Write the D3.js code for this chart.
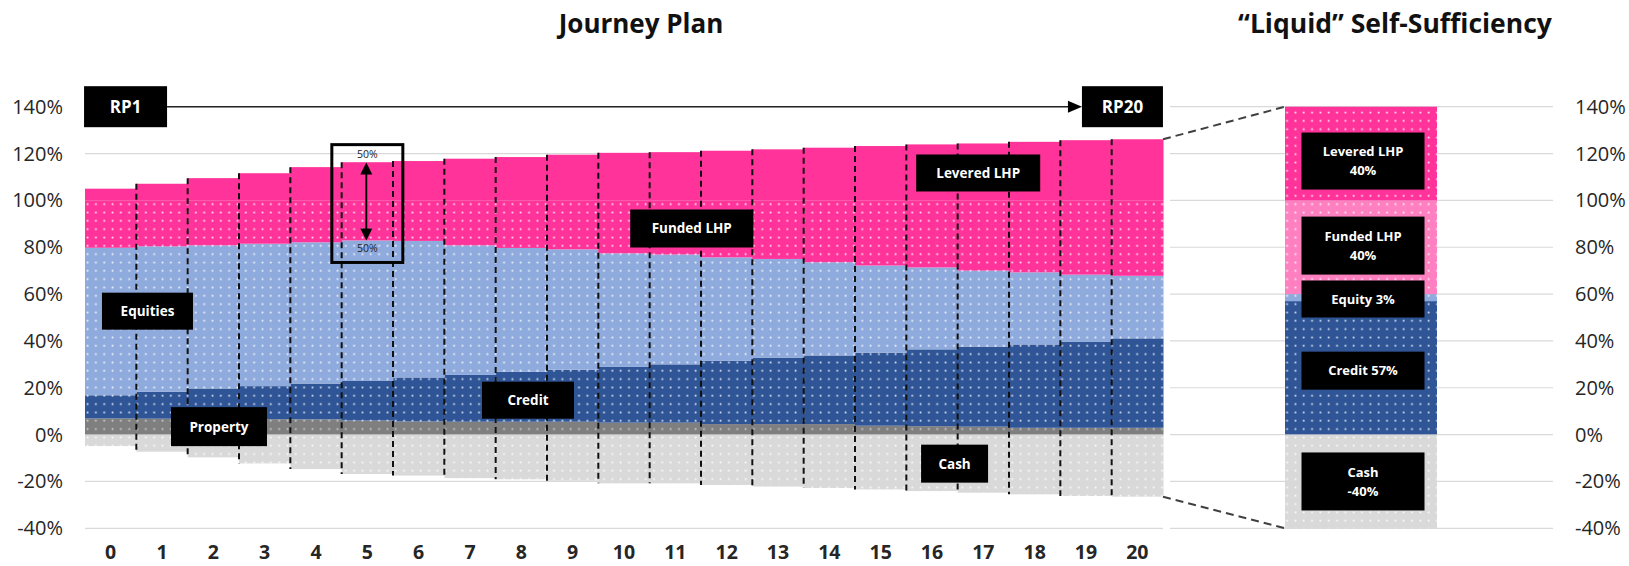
<!DOCTYPE html>
<html><head><meta charset="utf-8">
<script src="https://cdn.jsdelivr.net/npm/d3@7/dist/d3.min.js"></script>
<style>body{margin:0;background:#fff}svg{display:block;font-family:"Open Sans",sans-serif}</style>
</head><body><svg id="c" width="1629" height="566"></svg>
<script>
// ---- data (percent of liabilities) ----
const years = ["0","1","2","3","4","5","6","7","8","9","10","11","12","13","14","15","16","17","18","19","20"];
const property   = [6.9,6.8,6.7,6.6,6.5,6.0,5.6,5.5,5.5,5.5,5.1,5.1,4.5,4.5,4.5,3.8,3.6,3.4,2.9,2.9,2.9];
const credit     = [9.9,11.5,13.0,14.1,15.3,16.9,18.8,20.0,21.3,22.2,23.8,24.9,27.0,28.4,29.3,31.2,32.8,34.2,35.6,36.7,38.2];
const equities   = [63.0,62.1,61.1,60.8,60.3,60.0,58.3,55.3,52.9,51.4,48.5,46.9,44.2,42.1,39.8,37.2,35.0,32.4,30.8,28.7,26.7];
const fundedLHP  = [20.2,19.6,19.2,18.5,17.9,17.1,17.3,19.2,20.3,20.9,22.6,23.1,24.3,25.0,26.4,27.8,28.6,30.0,30.7,31.7,32.2];
const leveredLHP = [5.0,7.1,9.5,11.6,14.2,16.3,16.8,17.8,18.5,19.5,20.3,20.6,21.2,21.8,22.5,23.2,23.9,24.3,25.0,25.7,26.1];
const cash       = [-4.9,-7.3,-9.7,-12.3,-14.7,-16.8,-17.5,-18.6,-19.1,-19.7,-20.8,-20.8,-21.5,-22.2,-22.8,-23.4,-24.1,-24.8,-25.5,-26.2,-26.5];
const yTicks = [-40,-20,0,20,40,60,80,100,120,140];
const liquidNames  = ["Credit","Equity","Funded LHP","Levered LHP","Cash"];
const liquidValues = [57,3,40,40,-40];
const liquidLabels = [["Credit 57%"],["Equity 3%"],["Funded LHP","40%"],["Levered LHP","40%"],["Cash","-40%"]];
const rangeMarks = ["50%","50%"];
const titles = ["Journey Plan","\u201CLiquid\u201D Self-Sufficiency"];

// ---- build ----
const svg = d3.select("#c");
const x = d3.scaleBand().domain(years).range([85,1163]).padding(0);
const xc = d3.scaleLinear().domain([0,years.length]).range([85,1163]); // continuous position for annotations
const y = d3.scaleLinear().domain([-40,140]).range([528.3,106.7]);
const xr = d3.scaleBand().domain(["liquid"]).range([1285,1437]).padding(0);

const defs = svg.append("defs");
function dotPattern(id, bg, dot, op){
  const p = defs.append("pattern").attr("id",id).attr("patternUnits","userSpaceOnUse")
    .attr("width",8.33).attr("height",8.33);
  p.append("rect").attr("width",8.33).attr("height",8.33).attr("fill",bg);
  p.append("rect").attr("x",3.4).attr("y",3.4).attr("width",1.7).attr("height",1.7).attr("fill",dot).attr("opacity",op);
}
const col = {property:"#7f7f7f",credit:"#2f5597",equities:"#8faadc",funded:"#ff3399",levered:"#ff3399",cash:"#d9d9d9",fundedR:"#ff80c0"};
dotPattern("pProperty",col.property,"#fff",0.6);
dotPattern("pCredit",col.credit,"#fff",0.85);
dotPattern("pEquities",col.equities,"#fff",0.9);
dotPattern("pFunded",col.funded,"#fff",0.9);
dotPattern("pLevered",col.levered,"#fff",0.9);
dotPattern("pCash",col.cash,"#fff",0.9);
dotPattern("pFundedR",col.fundedR,"#fff",0.9);

// titles
svg.append("text").attr("x",641).attr("y",33).attr("text-anchor","middle").attr("font-size",26).attr("font-weight","bold").attr("fill","#111").text(titles[0]);
svg.append("text").attr("x",1395).attr("y",33).attr("text-anchor","middle").attr("font-size",26.5).attr("font-weight","bold").attr("fill","#111").text(titles[1]);

// gridlines
const grid = svg.append("g");
yTicks.forEach(t=>{
  grid.append("line").attr("x1",85).attr("x2",1163).attr("y1",y(t)).attr("y2",y(t)).attr("stroke","#d9d9d9").attr("stroke-width",1.2);
  grid.append("line").attr("x1",1170).attr("x2",1553).attr("y1",y(t)).attr("y2",y(t)).attr("stroke","#d9d9d9").attr("stroke-width",1.2);
});

// left axis labels
svg.append("g").selectAll("text").data(yTicks).join("text")
  .attr("x",63).attr("y",d=>y(d)).attr("dy","0.35em").attr("text-anchor","end")
  .attr("font-size",20).attr("fill","#262626").text(d=>d+"%");
// right axis labels
svg.append("g").selectAll("text").data(yTicks).join("text")
  .attr("x",1575).attr("y",d=>y(d)).attr("dy","0.35em").attr("text-anchor","start")
  .attr("font-size",20).attr("fill","#262626").text(d=>d+"%");
// x labels
svg.append("g").selectAll("text").data(years).join("text")
  .attr("x",d=>x(d)+x.bandwidth()/2).attr("y",559).attr("text-anchor","middle")
  .attr("font-size",19.5).attr("font-weight","bold").attr("fill","#262626").text(d=>d);

// stacked bars
const keys = ["property","credit","equities","funded","levered","cash"];
const rows = years.map((yr,i)=>({year:yr,property:property[i],credit:credit[i],equities:equities[i],funded:fundedLHP[i],levered:leveredLHP[i],cash:cash[i]}));
const series = d3.stack().keys(keys).offset(d3.stackOffsetDiverging)(rows);
const fills = {property:"url(#pProperty)",credit:"url(#pCredit)",equities:"url(#pEquities)",funded:"url(#pFunded)",levered:col.levered,cash:"url(#pCash)"};
svg.append("g").selectAll("g").data(series).join("g")
  .attr("fill",s=>fills[s.key])
  .selectAll("rect").data(s=>s).join("rect")
  .attr("x",d=>x(d.data.year)).attr("width",x.bandwidth()+0.5)
  .attr("y",d=>y(Math.max(d[0],d[1]))).attr("height",d=>Math.abs(y(d[0])-y(d[1])));

// dashed separators
const tops = years.map((yr,i)=>d3.max(series,s=>Math.max(s[i][0],s[i][1])));
const bots = years.map((yr,i)=>d3.min(series,s=>Math.min(s[i][0],s[i][1])));
svg.append("g").selectAll("line").data(years.slice(1)).join("line")
  .attr("x1",d=>x(d)).attr("x2",d=>x(d))
  .attr("y1",(d,k)=>y(Math.max(tops[k],tops[k+1])))
  .attr("y2",(d,k)=>y(Math.min(bots[k],bots[k+1])))
  .attr("stroke","#111").attr("stroke-width",2).attr("stroke-dasharray","6,4");

// right liquid bar
const liqRow = {}; liquidNames.forEach((n,i)=>liqRow[n]=liquidValues[i]);
const liqSeries = d3.stack().keys(liquidNames).offset(d3.stackOffsetDiverging)([liqRow]);
const liqFill = {"Credit":"url(#pCredit)","Equity":"url(#pEquities)","Funded LHP":"url(#pFundedR)","Levered LHP":"url(#pLevered)","Cash":"url(#pCash)"};
svg.append("g").selectAll("rect").data(liqSeries).join("rect")
  .attr("x",xr("liquid")).attr("width",xr.bandwidth())
  .attr("y",s=>y(Math.max(s[0][0],s[0][1]))).attr("height",s=>Math.abs(y(s[0][0])-y(s[0][1])))
  .attr("fill",s=>liqFill[s.key]);

// connectors
const lastI = years.length-1;
const liqTop = d3.max(liqSeries,s=>s[0][1]), liqBot = d3.min(liqSeries,s=>Math.min(s[0][0],s[0][1]));
svg.append("line").attr("x1",x(years[lastI])+x.bandwidth()).attr("y1",y(tops[lastI])).attr("x2",xr("liquid")).attr("y2",y(liqTop))
  .attr("stroke","#404040").attr("stroke-width",2).attr("stroke-dasharray","8,5");
svg.append("line").attr("x1",x(years[lastI])+x.bandwidth()).attr("y1",y(bots[lastI])).attr("x2",xr("liquid")).attr("y2",y(liqBot))
  .attr("stroke","#404040").attr("stroke-width",2).attr("stroke-dasharray","8,5");

// black label boxes
function box(cx, cy, w, h, lines, fs){
  const g = svg.append("g");
  g.append("rect").attr("x",cx-w/2).attr("y",cy-h/2).attr("width",w).attr("height",h).attr("fill","#000");
  const lh = 19;
  lines.forEach((t,k)=>{
    g.append("text").attr("x",cx).attr("y",cy+(k-(lines.length-1)/2)*lh).attr("dy","0.36em")
      .attr("text-anchor","middle").attr("font-size",fs).attr("font-weight","bold").attr("fill","#fff").text(t);
  });
}
// left annotations (positions in data space)
box(xc(1.217), y(52.7), 91, 37, ["Equities"], 13.5);
box(xc(2.61), y(3.4), 96, 39, ["Property"], 13.5);
box(xc(8.63), y(14.7), 92, 37, ["Credit"], 13.5);
box(xc(16.94), y(-12.4), 67, 38, ["Cash"], 13.5);
box(xc(11.82), y(88), 123, 38, ["Funded LHP"], 13.5);
box(xc(17.4), y(111.7), 124, 37, ["Levered LHP"], 13.5);
box(xc(0.79), y(140), 83, 41, ["RP1"], 17);
box(xc(20.21), y(140), 81, 41, ["RP20"], 17);

// RP arrow
const ax1 = xc(0.79)+41.5, ax2 = xc(20.21)-40.5;
svg.append("line").attr("x1",ax1).attr("x2",ax2-13).attr("y1",y(140)).attr("y2",y(140)).attr("stroke","#222").attr("stroke-width",1.6);
svg.append("path").attr("d",`M${ax2},${y(140)} L${ax2-14},${y(140)-6} L${ax2-14},${y(140)+6} Z`).attr("fill","#000");

// right annotations
const rcx = xr("liquid")+xr.bandwidth()/2+2;
const liqBoxY = {"Levered LHP":[116.8,57],"Funded LHP":[80.7,58],"Equity":[57.9,37],"Credit":[27.3,38],"Cash":[-20,58]};
liquidNames.forEach((n,i)=>box(rcx, y(liqBoxY[n][0]), 123, liqBoxY[n][1], liquidLabels[i], 13));

// 50% range box on year 5
const bx = x("5")+x.bandwidth()/2;
svg.append("rect").attr("x",bx-35.5).attr("y",y(123.8)).attr("width",71).attr("height",y(73.5)-y(123.8))
  .attr("fill","none").attr("stroke","#000").attr("stroke-width",3);
const aTop = y(116.2), aBot = y(82.9);
svg.append("line").attr("x1",bx-1).attr("x2",bx-1).attr("y1",aTop+8).attr("y2",aBot-8).attr("stroke","#000").attr("stroke-width",1.8);
svg.append("path").attr("d",`M${bx-1},${aTop} L${bx-7},${aTop+12} L${bx+5},${aTop+12} Z`).attr("fill","#000");
svg.append("path").attr("d",`M${bx-1},${aBot} L${bx-7},${aBot-12} L${bx+5},${aBot-12} Z`).attr("fill","#000");
svg.append("text").attr("x",bx).attr("y",y(119.6)).attr("dy","0.35em").attr("text-anchor","middle").attr("font-size",10.5).attr("fill","#222").text(rangeMarks[0]);
svg.append("text").attr("x",bx).attr("y",y(79.6)).attr("dy","0.35em").attr("text-anchor","middle").attr("font-size",10.5).attr("fill","#222").text(rangeMarks[1]);
</script></body></html>
